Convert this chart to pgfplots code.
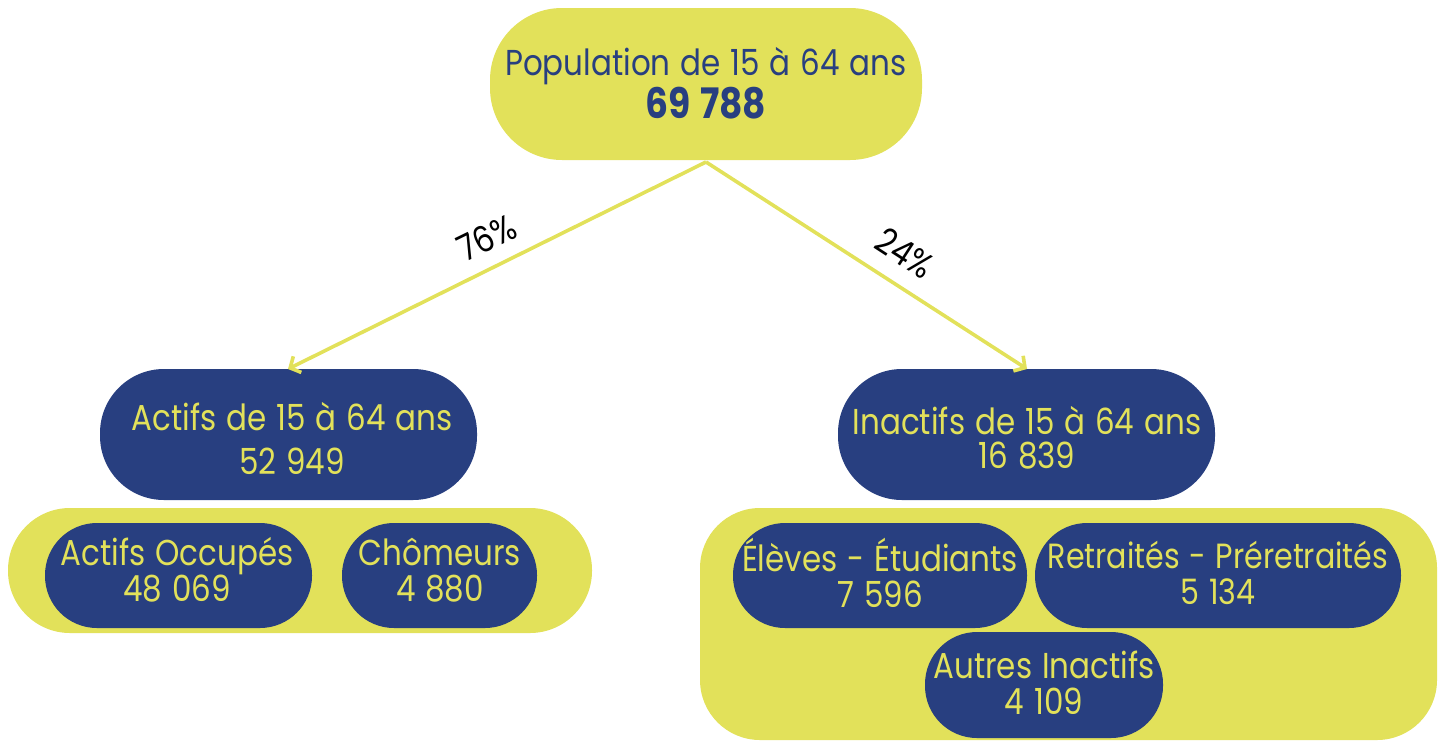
\documentclass[border=0pt]{standalone}
\usepackage{pgfplots}
\pgfplotsset{compat=1.18}
\usepackage{fontspec}
\setmainfont{Poppins}[FakeStretch=0.86, WordSpace=1.2]
\usetikzlibrary{arrows.meta}
\definecolor{ylw}{HTML}{E2E15A}
\definecolor{blu}{HTML}{283F80}
\begin{document}
\begin{tikzpicture}
\begin{axis}[
  scale only axis, width=722.5pt, height=370pt,
  xmin=0, xmax=1445, ymin=0, ymax=740, y dir=reverse,
  axis lines=none, clip=false,
]
\path (axis cs:0,0) rectangle (axis cs:1445,740);
% yellow group backgrounds
\fill[ylw, rounded corners=31pt] (axis cs:8,508) rectangle (axis cs:592,633);
\fill[ylw, rounded corners=30pt] (axis cs:700,508) rectangle (axis cs:1437,740);
% top pill
\fill[ylw, rounded corners=36pt] (axis cs:490,8) rectangle (axis cs:922,160);
% blue pills
\fill[blu, rounded corners=32pt] (axis cs:100,369) rectangle (axis cs:477,500);
\fill[blu, rounded corners=32pt] (axis cs:838,369) rectangle (axis cs:1215,500);
\fill[blu, rounded corners=26pt] (axis cs:45,523) rectangle (axis cs:312,628);
\fill[blu, rounded corners=26pt] (axis cs:342,523) rectangle (axis cs:537,628);
\fill[blu, rounded corners=26pt] (axis cs:733,523) rectangle (axis cs:1027,628);
\fill[blu, rounded corners=26pt] (axis cs:1035,523) rectangle (axis cs:1401,628);
\fill[blu, rounded corners=26pt] (axis cs:925,632) rectangle (axis cs:1163,738);
% arrows
\draw[ylw, line width=1.8pt, -{Straight Barb[length=4pt,width=9pt]}] (axis cs:706,162) -- (axis cs:288,369);
\draw[ylw, line width=1.8pt, -{Straight Barb[length=4pt,width=9pt]}] (axis cs:706,162) -- (axis cs:1027,369);
\node[rotate=26, font=\fontsize{18}{20}\selectfont] at (axis cs:487,238) {76\%};
\node[rotate=-33, font=\fontsize{18}{20}\selectfont] at (axis cs:905,253) {24\%};
% texts
\node[align=center, text=blu, font=\fontsize{18}{21.5}\selectfont] at (axis cs:706,83) {Population de 15 à 64 ans\\\fontsize{21}{21.5}\selectfont\textbf{69 788}};
\node[align=center, text=ylw, font=\fontsize{18}{22}\selectfont] at (axis cs:292,438) {Actifs de 15 à 64 ans\\52 949};
\node[align=center, text=ylw, font=\fontsize{18}{17}\selectfont] at (axis cs:1027,438) {Inactifs de 15 à 64 ans\\16 839};
\node[align=center, text=ylw, font=\fontsize{18}{18}\selectfont] at (axis cs:177,570) {Actifs Occupés\\48 069};
\node[align=center, text=ylw, font=\fontsize{18}{18}\selectfont] at (axis cs:440,570) {Chômeurs\\4 880};
\node[align=center, text=ylw, font=\fontsize{18}{18}\selectfont] at (axis cs:880,573) {Élèves - Étudiants\\7 596};
\node[align=center, text=ylw, font=\fontsize{17.5}{18}\selectfont] at (axis cs:1218,573) {Retraités - Préretraités\\5 134};
\node[align=center, text=ylw, font=\fontsize{18}{18}\selectfont] at (axis cs:1044,683) {Autres Inactifs\\4 109};
\end{axis}
\end{tikzpicture}
\end{document}
